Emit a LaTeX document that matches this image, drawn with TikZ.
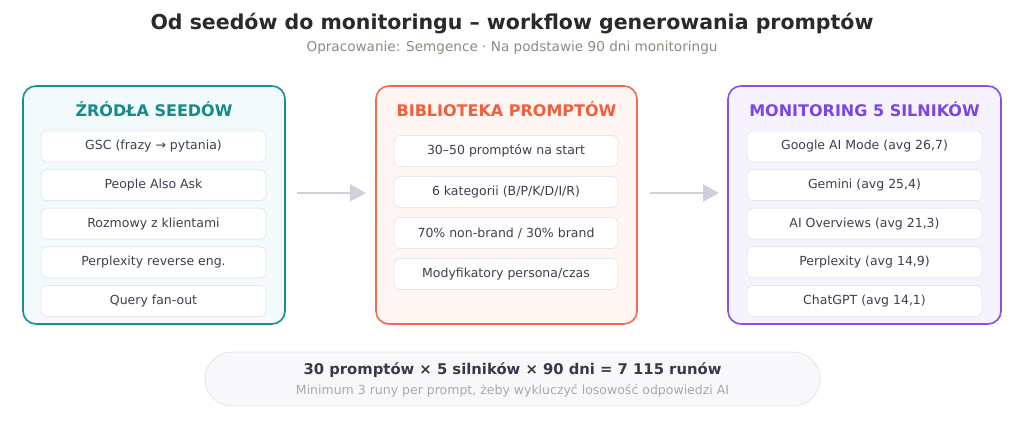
\documentclass[tikz,border=0pt]{standalone}
\usepackage{fontspec}
\setmainfont{DejaVu Sans}
\usetikzlibrary{arrows.meta,shadows}
\definecolor{teal1}{HTML}{17918E}
\definecolor{tealtxt}{HTML}{168A89}
\definecolor{tealbg}{HTML}{F2FAFB}
\definecolor{coral1}{HTML}{F26B4E}
\definecolor{coraltxt}{HTML}{F0603D}
\definecolor{coralbg}{HTML}{FFF5F2}
\definecolor{purp1}{HTML}{8352E8}
\definecolor{purptxt}{HTML}{7C45E6}
\definecolor{purpbg}{HTML}{F6F3FF}
\definecolor{itemborder}{HTML}{E6E8EE}
\definecolor{itemtxt}{HTML}{3C4150}
\definecolor{arrowc}{HTML}{CFD0DC}
\definecolor{titlec}{HTML}{2A2A2E}
\definecolor{subc}{HTML}{8C8C7E}
\definecolor{pillbg}{HTML}{F8F7FA}
\definecolor{pillborder}{HTML}{E6E4EC}
\definecolor{pilltxt}{HTML}{353A4A}
\definecolor{pillsub}{HTML}{A6A8B8}
\tikzset{
  panel/.style={draw=#1, line width=1.6pt, rounded corners=13pt},
  hdr/.style={font=\bfseries\fontsize{16}{19}\selectfont, text=#1},
  item/.style={draw=itemborder, fill=white, line width=0.8pt, rounded corners=6pt,
    minimum height=31pt, inner sep=0pt, font=\fontsize{12.5}{15}\selectfont, text=itemtxt},
  flow/.style={draw=arrowc, line width=2.2pt, -{Triangle[length=16pt,width=17pt]}}
}
\begin{document}
\begin{tikzpicture}[x=1pt,y=-1pt]
\fill[white] (0,0) rectangle (1024,432);
\useasboundingbox (0,0) rectangle (1024,432);

\node[font=\bfseries\fontsize{20.5}{24}\selectfont, text=titlec] (title) at (512,24) {Od seedów do monitoringu – workflow generowania promptów};
\node[font=\fontsize{13.6}{16}\selectfont, text=subc] (sub) at (512,48) {Opracowanie: Semgence · Na podstawie 90 dni monitoringu};

% panels
\path[panel=teal1, fill=tealbg] (23,86) rectangle (285,324);
\node[hdr=tealtxt] (h1) at (154,109) {ŹRÓDŁA SEEDÓW};
\path[panel=coral1, fill=coralbg] (376,86) rectangle (637,324);
\node[hdr=coraltxt] (h2) at (506.5,109) {BIBLIOTEKA PROMPTÓW};
\path[panel=purp1, fill=purpbg] (728,86) rectangle (1001,324);
\node[hdr=purptxt] (h3) at (864.5,109) {MONITORING 5 SILNIKÓW};

% left items
\foreach \t [count=\i] in {GSC (frazy → pytania),People Also Ask,Rozmowy z klientami,Perplexity reverse eng.,Query fan-out}{
  \node[item, minimum width=225pt] (a\i) at (153.5,{146.5+38.6*(\i-1)}) {\t};
}
% middle items
\foreach \t [count=\i] in {30–50 promptów na start,6 kategorii (B/P/K/D/I/R),70\% non-brand / 30\% brand,Modyfikatory persona/czas}{
  \node[item, minimum width=224pt] (b\i) at (506,{151+41*(\i-1)}) {\t};
}
% right items
\foreach \t [count=\i] in {Google AI Mode (avg 26{,}7),Gemini (avg 25{,}4),AI Overviews (avg 21{,}3),Perplexity (avg 14{,}9),ChatGPT (avg 14{,}1)}{
  \node[item, minimum width=235pt] (c\i) at (864.5,{146.5+38.6*(\i-1)}) {\t};
}

% arrows
\coordinate (p1s) at (297,193); \coordinate (p1e) at (366,193);
\coordinate (p2s) at (650,193); \coordinate (p2e) at (719,193);
\draw[flow] (p1s) -- (p1e);
\draw[flow] (p2s) -- (p2e);

% bottom pill
\path[draw=pillborder, fill=pillbg, line width=0.8pt, rounded corners=27pt] (205,352) rectangle (820,406);
\node[font=\bfseries\fontsize{14.8}{17}\selectfont, text=pilltxt] (f1) at (512.5,370) {30 promptów × 5 silników × 90 dni = 7 115 runów};
\node[font=\fontsize{12.5}{15}\selectfont, text=pillsub] (f2) at (512.5,391) {Minimum 3 runy per prompt, żeby wykluczyć losowość odpowiedzi AI};
\end{tikzpicture}
\end{document}
